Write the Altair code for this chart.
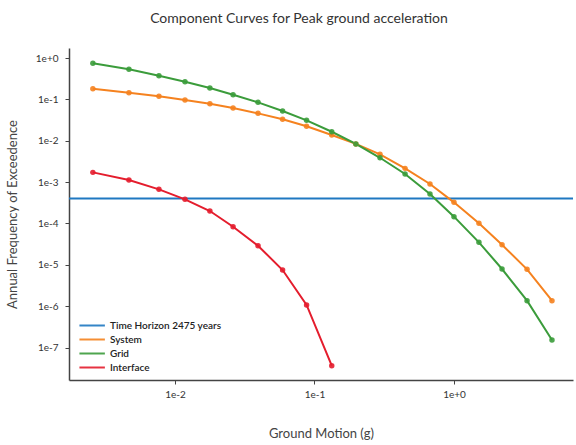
import altair as alt
import pandas as pd

# Ground motion levels (g)
x_levels = [0.00258, 0.00468, 0.00768, 0.0118, 0.0178, 0.0261, 0.0394, 0.0591,
            0.0878, 0.133, 0.198, 0.295, 0.446, 0.673, 1.0, 1.51, 2.21, 3.34, 5.04]
system = [0.181, 0.145, 0.119, 0.0966, 0.0786, 0.0618, 0.0460, 0.0330, 0.0224,
          0.0138, 0.0084, 0.0047, 0.00215, 9.0e-4, 3.24e-4, 1.01e-4, 3.06e-5,
          7.79e-6, 1.36e-6]
grid = [0.745, 0.533, 0.373, 0.267, 0.188, 0.130, 0.0849, 0.0523, 0.0312,
        0.0165, 0.0084, 0.00388, 0.00157, 5.15e-4, 1.46e-4, 3.50e-5, 7.92e-6,
        1.36e-6, 1.52e-7]
interface = [1.72e-3, 1.12e-3, 6.68e-4, 3.83e-4, 2.00e-4, 8.34e-5, 2.90e-5,
             7.48e-6, 1.07e-6, 3.64e-8]
horizon_years = 2475

series_names = ["Time Horizon 2475 years", "System", "Grid", "Interface"]
series_colors = ["#1f78c1", "#f5821f", "#3b9c3b", "#e41d2d"]

rows = []
for name, vals in [("System", system), ("Grid", grid), ("Interface", interface)]:
    for xv, yv in zip(x_levels, vals):
        rows.append({"series": name, "x": xv, "y": yv})
curves = pd.DataFrame(rows)
horizon = pd.DataFrame({"series": ["Time Horizon 2475 years"], "y": [1.0 / horizon_years]})

color = alt.Color(
    "series:N",
    scale=alt.Scale(domain=series_names, range=series_colors),
    legend=alt.Legend(
        title=None, orient="none", legendX=9, legendY=269,
        symbolType="M-1,0H2.6", symbolSize=200, symbolStrokeWidth=2,
        labelFont="Lato", labelFontSize=10, labelFontWeight=600,
        labelColor="#222", rowPadding=0, labelOffset=15,
    ),
)

xscale = alt.Scale(type="log", domain=[0.00174, 7.13], nice=False)
yscale = alt.Scale(type="log", domain=[1.64e-8, 1.75], nice=False)

xaxis = alt.Axis(title="Ground Motion (g)", values=[0.01, 0.1, 1.0], format=".0e",
                 grid=False, titlePadding=28, labelPadding=5)
yaxis = alt.Axis(title="Annual Frequency of Exceedence",
                 values=[1, 1e-1, 1e-2, 1e-3, 1e-4, 1e-5, 1e-6, 1e-7],
                 format=".0e", grid=False, titlePadding=16, labelPadding=7)

rule = alt.Chart(horizon).mark_rule(strokeWidth=2).encode(
    y=alt.Y("y:Q", scale=yscale, axis=yaxis),
    color=color,
)

lines = alt.Chart(curves).mark_line(strokeWidth=2, clip=True).encode(
    x=alt.X("x:Q", scale=xscale, axis=xaxis),
    y=alt.Y("y:Q", scale=yscale, axis=yaxis),
    color=color,
)
points = alt.Chart(curves).mark_point(filled=True, size=30, opacity=0.9).encode(
    x=alt.X("x:Q", scale=xscale, axis=xaxis),
    y=alt.Y("y:Q", scale=yscale, axis=yaxis),
    color=color,
)

chart = (
    alt.layer(rule, lines, points)
    .properties(
        width=504, height=332,
        title=alt.Title("Component Curves for Peak ground acceleration",
                        font="Lato", fontSize=14, fontWeight="normal",
                        color="#333", offset=22, anchor="middle", dx=-22),
        autosize=alt.AutoSizeParams(type="none"),
        padding={"left": 69, "top": 48, "right": 3, "bottom": 65},
        background="white",
    )
    .configure_view(stroke=None)
    .configure_axis(
        labelFont="Lato", labelFontSize=10, labelColor="#333",
        titleFont="Lato", titleFontSize=13, titleFontWeight="normal", titleColor="#444",
        domainColor="#444", domainWidth=1.5, tickColor="#444", tickSize=4,
    )
)

chart.save("out.html", embed_options={"renderer": "svg", "actions": False})
